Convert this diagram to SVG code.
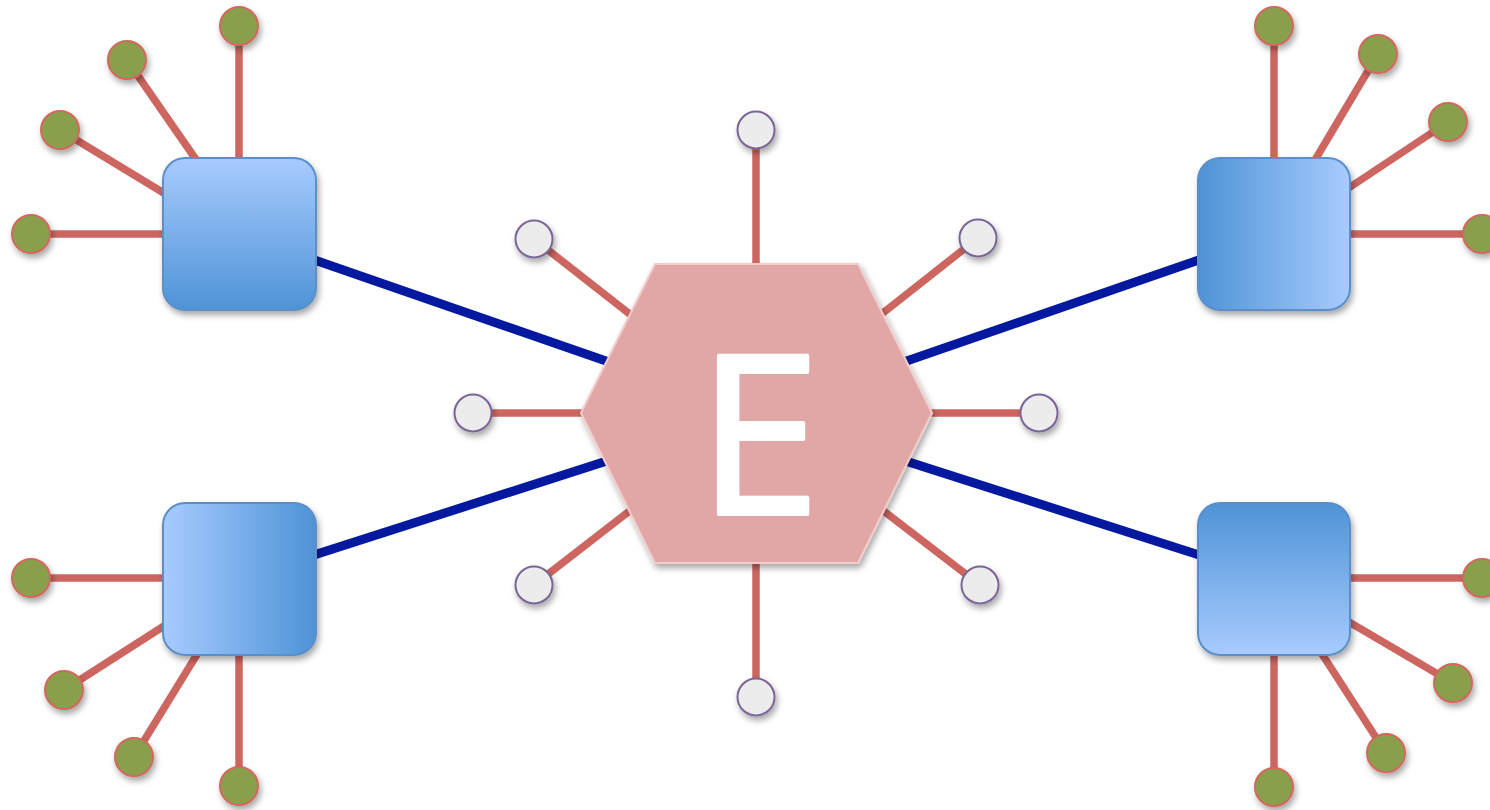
<svg xmlns="http://www.w3.org/2000/svg" width="1490" height="810" viewBox="0 0 1490 810">
<defs>
<filter id="sh" x="-30%" y="-30%" width="160%" height="160%"><feDropShadow dx="2" dy="4" stdDeviation="3" flood-color="#000" flood-opacity="0.35"/></filter>
<linearGradient id="gDown" x1="0" y1="0" x2="0" y2="1"><stop offset="0" stop-color="#a8cbff"/><stop offset="1" stop-color="#4e93d6"/></linearGradient>
<linearGradient id="gUp" x1="0" y1="1" x2="0" y2="0"><stop offset="0" stop-color="#a8cbff"/><stop offset="1" stop-color="#4e93d6"/></linearGradient>
<linearGradient id="gRight" x1="0" y1="0" x2="1" y2="0"><stop offset="0" stop-color="#a8cbff"/><stop offset="1" stop-color="#4e93d6"/></linearGradient>
<linearGradient id="gLeft" x1="1" y1="0" x2="0" y2="0"><stop offset="0" stop-color="#a8cbff"/><stop offset="1" stop-color="#4e93d6"/></linearGradient>
</defs>
<style>
.r{stroke:#cd6660;stroke-width:7.5;fill:none}
.b{stroke:#0419a0;stroke-width:9;fill:none}
.box{stroke:#5b8fc9;stroke-width:2;filter:url(#sh)}
.g{fill:#8a9f4b;stroke:#d2675f;stroke-width:2;filter:url(#sh)}
.w{fill:#ececec;stroke:#7a6597;stroke-width:2;filter:url(#sh)}
.hex{fill:#e1a7a6;stroke:#f2cccc;stroke-width:2;filter:url(#sh)}
.lbl{font-family:'Open Sans','Liberation Sans',sans-serif;font-size:222px;font-weight:400;fill:#ffffff;stroke:#ffffff;stroke-width:4;stroke-linejoin:round}
</style>
<g id="connectors">
<line class="b" x1="239.5" y1="234" x2="756" y2="413"/>
<line class="b" x1="1274" y1="234" x2="756" y2="413"/>
<line class="b" x1="239.5" y1="579" x2="756" y2="413"/>
<line class="b" x1="1274" y1="579" x2="756" y2="413"/>
<line class="r" x1="756" y1="130" x2="756" y2="413"/>
<line class="r" x1="534" y1="239" x2="756" y2="413"/>
<line class="r" x1="978" y1="238" x2="756" y2="413"/>
<line class="r" x1="473" y1="413" x2="756" y2="413"/>
<line class="r" x1="1039" y1="413" x2="756" y2="413"/>
<line class="r" x1="534" y1="585" x2="756" y2="413"/>
<line class="r" x1="980" y1="585" x2="756" y2="413"/>
<line class="r" x1="756" y1="697" x2="756" y2="413"/>
<line class="r" x1="239" y1="26" x2="239" y2="200"/>
<line class="r" x1="127" y1="60" x2="215" y2="187"/>
<line class="r" x1="60" y1="130" x2="200" y2="215"/>
<line class="r" x1="31" y1="234" x2="200" y2="234"/>
<line class="r" x1="1274" y1="26" x2="1274" y2="200"/>
<line class="r" x1="1378" y1="54" x2="1296" y2="192"/>
<line class="r" x1="1448" y1="122" x2="1320" y2="207"/>
<line class="r" x1="1482" y1="234" x2="1300" y2="234"/>
<line class="r" x1="31" y1="578" x2="200" y2="578"/>
<line class="r" x1="64" y1="690" x2="200" y2="603"/>
<line class="r" x1="134" y1="757" x2="220" y2="617"/>
<line class="r" x1="239" y1="786" x2="239" y2="620"/>
<line class="r" x1="1482" y1="578" x2="1300" y2="578"/>
<line class="r" x1="1453" y1="683" x2="1320" y2="605"/>
<line class="r" x1="1386" y1="753" x2="1300" y2="620"/>
<line class="r" x1="1274" y1="787" x2="1274" y2="620"/>
</g>
<g id="hub">
<polygon class="hex" points="655,264 858,264 932,413 858,563 655,563 581,413"/>
<text class="lbl" x="759" y="514" text-anchor="middle">E</text>
</g>
<g id="box-tl"><rect class="box" x="163" y="158" width="153" height="152" rx="22" fill="url(#gDown)"/></g>
<g id="box-tr"><rect class="box" x="1198" y="158" width="152" height="152" rx="22" fill="url(#gLeft)"/></g>
<g id="box-bl"><rect class="box" x="163" y="503" width="153" height="152" rx="22" fill="url(#gRight)"/></g>
<g id="box-br"><rect class="box" x="1198" y="503" width="152" height="152" rx="22" fill="url(#gUp)"/></g>
<g id="leaves-tl">
<circle class="g" cx="239" cy="26" r="19"/><circle class="g" cx="127" cy="60" r="19"/><circle class="g" cx="60" cy="130" r="19"/><circle class="g" cx="31" cy="234" r="19"/>
</g>
<g id="leaves-tr">
<circle class="g" cx="1274" cy="26" r="19"/><circle class="g" cx="1378" cy="54" r="19"/><circle class="g" cx="1448" cy="122" r="19"/><circle class="g" cx="1482" cy="234" r="19"/>
</g>
<g id="leaves-bl">
<circle class="g" cx="31" cy="578" r="19"/><circle class="g" cx="64" cy="690" r="19"/><circle class="g" cx="134" cy="757" r="19"/><circle class="g" cx="239" cy="786" r="19"/>
</g>
<g id="leaves-br">
<circle class="g" cx="1482" cy="578" r="19"/><circle class="g" cx="1453" cy="683" r="19"/><circle class="g" cx="1386" cy="753" r="19"/><circle class="g" cx="1274" cy="787" r="19"/>
</g>
<g id="ports">
<circle class="w" cx="756" cy="130" r="18.5"/><circle class="w" cx="534" cy="239" r="18.5"/><circle class="w" cx="978" cy="238" r="18.5"/><circle class="w" cx="473" cy="413" r="18.5"/><circle class="w" cx="1039" cy="413" r="18.5"/><circle class="w" cx="534" cy="585" r="18.5"/><circle class="w" cx="980" cy="585" r="18.5"/><circle class="w" cx="756" cy="697" r="18.5"/>
</g>
</svg>
